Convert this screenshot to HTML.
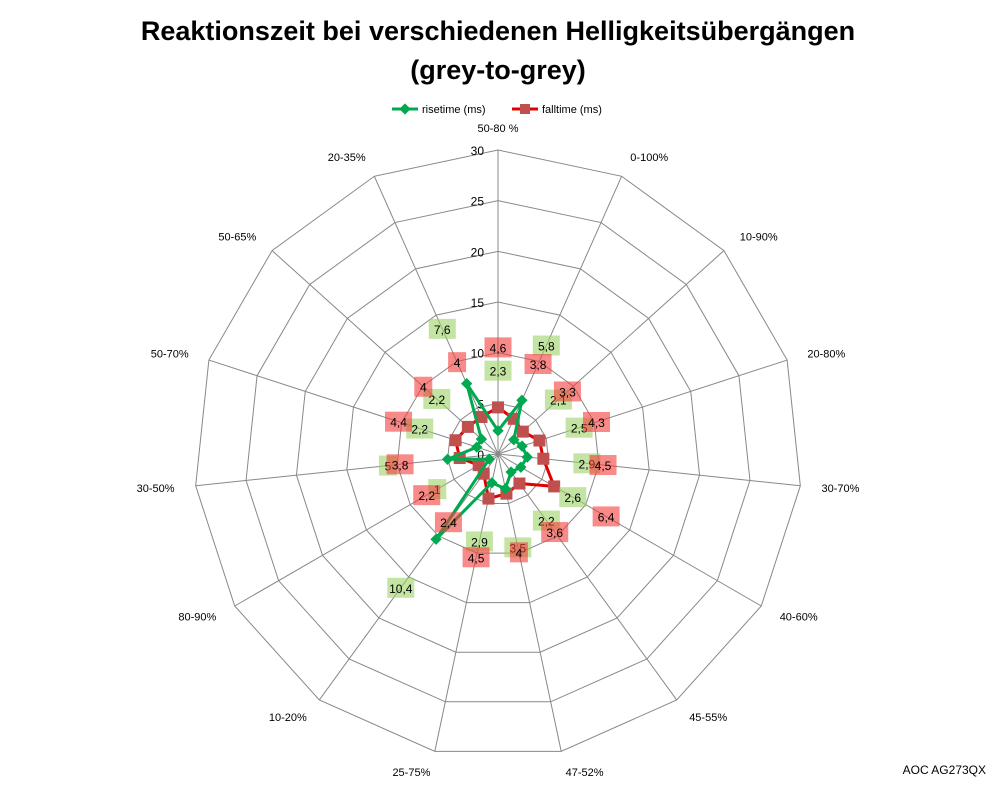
<!DOCTYPE html>
<html><head><meta charset="utf-8"><style>
html,body{margin:0;padding:0;background:#fff;}
svg{display:block;font-family:"Liberation Sans",sans-serif;}
</style></head><body>
<svg id="chart" width="998" height="786" viewBox="0 0 998 786" xmlns="http://www.w3.org/2000/svg">
<text x="498" y="40" text-anchor="middle" font-size="27" font-weight="bold" fill="#000">Reaktionszeit bei verschiedenen Helligkeitsübergängen</text>
<text x="498" y="79" text-anchor="middle" font-size="27" font-weight="bold" fill="#000">(grey-to-grey)</text>
<g>
<g>
<line x1="392" y1="109" x2="418" y2="109" stroke="#00a850" stroke-width="3"/>
<rect x="401" y="105" width="8" height="8" fill="#00a850" transform="rotate(45 405 109)"/>
<text x="422" y="113" font-size="11">risetime (ms)</text></g>
<g>
<line x1="512" y1="109" x2="538" y2="109" stroke="#e00000" stroke-width="3"/>
<rect x="520" y="104" width="10" height="10" fill="#c0504d"/>
<text x="542" y="113" font-size="11">falltime (ms)</text></g>
</g>
<g id="grid"></g><g id="series"></g><g id="labels"></g>
<text x="986" y="774" text-anchor="end" font-size="12">AOC AG273QX</text>
</svg>
<script>
const categories=["50-80 %","0-100%","10-90%","20-80%","30-70%","40-60%","45-55%","47-52%","25-75%","10-20%","80-90%","30-50%","50-70%","50-65%","20-35%"];
const riseLabels=["2,3","5,8","2,1","2,5","2,9","2,6","2,2","3,5","2,9","10,4","1","5","2,2","2,2","7,6"];
const riseValues=[2.3,5.8,2.1,2.5,2.9,2.6,2.2,3.5,2.9,10.4,1,5,2.2,2.2,7.6];
const fallValues=[4.6,3.8,3.3,4.3,4.5,6.4,3.6,4,4.5,2.4,2.2,3.8,4.4,4,4];
const fallLabels=["4,6","3,8","3,3","4,3","4,5","6,4","3,6","4","4,5","2,4","2,2","3,8","4,4","4","4"];
const ticks=[0,5,10,15,20,25,30];
const NS="http://www.w3.org/2000/svg";
const cx=498,cy=454,R=304,maxV=30;
const n=categories.length;
function ang(i){return (i*360/n-90)*Math.PI/180;}
function pt(i,v){const r=v/maxV*R;return [cx+r*Math.cos(ang(i)),cy+r*Math.sin(ang(i))];}
function mk(tag,attrs,parent){const e=document.createElementNS(NS,tag);for(const k in attrs)e.setAttribute(k,attrs[k]);parent.appendChild(e);return e;}
const grid=document.getElementById('grid'),ser=document.getElementById('series'),lab=document.getElementById('labels');
ticks.slice(1).forEach(t=>{
 const p=mk('polygon',{points:categories.map((c,i)=>pt(i,t).join(',')).join(' '),fill:'none',stroke:'#888','stroke-width':1},grid);
 
 
});
categories.forEach((c,i)=>{
 const [x,y]=pt(i,maxV);
 const l=mk('line',{x1:cx,y1:cy,x2:x,y2:y,stroke:'#888','stroke-width':1},grid);
 
 
 const [lx,ly]=pt(i,maxV*1.07);
 const a=Math.cos(ang(i));
 const t=mk('text',{x:lx,y:ly+4,'font-size':11,'text-anchor':Math.abs(a)<0.2?'middle':(a>0?'start':'end')},grid);
 if(i===0){t.setAttribute('y',cy-R-18);}
 t.textContent=c;
 
 
});
ticks.forEach(t=>{
 const [x,y]=pt(0,t);
 const e=mk('text',{x:x-14,y:y+5,'font-size':12,'text-anchor':'end'},grid);
 e.textContent=t;
 
 
});
function series(vals,color,marker,name){
 const g=mk('g',{},ser);
 
 
 mk('polygon',{points:vals.map((v,i)=>pt(i,v).join(',')).join(' '),fill:'none',stroke:color,'stroke-width':3,'stroke-linejoin':'round'},g);
 vals.forEach((v,i)=>{
  const [x,y]=pt(i,v);
  let m;
  if(marker==='d'){m=mk('rect',{x:x-4,y:y-4,width:8,height:8,fill:'#00a850',transform:`rotate(45 ${x} ${y})`},g);}
  else{m=mk('rect',{x:x-6,y:y-6,width:12,height:12,fill:'#c0504d'},g);}
  
  
 });
}
series(fallValues,'#e00000','s','falltime');
series(riseValues,'#00a850','d','risetime');
function labels(vals,txts,fill,name){
 vals.forEach((v,i)=>{
  const r=v/maxV*R+60;
  const x=cx+r*Math.cos(ang(i)),y=cy+r*Math.sin(ang(i));
  const w=txts[i].length>2?27:(txts[i].length>1?24:18);
  const b=mk('rect',{x:x-w/2,y:y-10,width:w,height:20,fill:fill},lab);
  
  
  const t=mk('text',{x:x,y:y+5,'font-size':12,'text-anchor':'middle'},lab);
  t.textContent=txts[i];
  
  
 });
}
labels(riseValues,riseLabels,'rgba(155,210,100,0.6)','risetime');
labels(fallValues,fallLabels,'rgba(245,60,60,0.6)','falltime');
</script>
</body></html>
